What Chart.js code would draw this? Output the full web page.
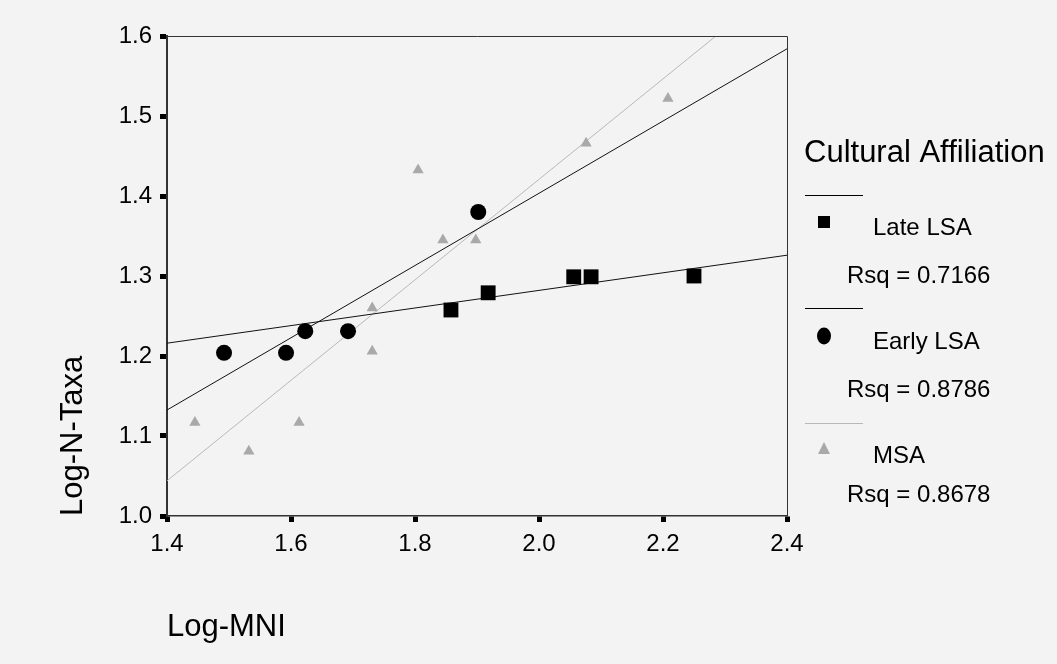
<!DOCTYPE html>
<html>
<head>
<meta charset="utf-8">
<script src="https://cdn.jsdelivr.net/npm/chart.js@4/dist/chart.umd.min.js"></script>
<style>
  html, body { margin: 0; padding: 0; background: #f3f3f3; }
  #wrap { position: relative; width: 1057px; height: 664px; }
</style>
</head>
<body>
<div id="wrap"><canvas id="chart" width="1057" height="664"></canvas></div>
<script>
const FONT = "'Liberation Sans', Arial, sans-serif";

const xTicks = [1.4, 1.6, 1.8, 2.0, 2.2, 2.4];
const yTicks = [1.0, 1.1, 1.2, 1.3, 1.4, 1.5, 1.6];

// points
const lateX = [1.858, 1.918, 2.056, 2.084, 2.250];
const lateY = [1.2575, 1.279, 1.299, 1.299, 1.300];
const earlyX = [1.492, 1.592, 1.623, 1.692, 1.902];
const earlyY = [1.204, 1.204, 1.231, 1.231, 1.380];
const msaX = [1.445, 1.532, 1.613, 1.731, 1.731, 1.805, 1.845, 1.898, 2.076, 2.208];
const msaY = [1.117, 1.081, 1.117, 1.206, 1.260, 1.4325, 1.345, 1.345, 1.466, 1.522];

// fit lines, values read at x = 1.4 and x = 2.4
const fitX = [1.4, 2.4];
const lateFit = [1.216, 1.326];
const earlyFit = [1.1325, 1.584];
const msaFit = [1.044, 1.672];

const legendTitle = 'Cultural Affiliation';
const groupNames = ['Late LSA', 'Early LSA', 'MSA'];
const rsqValues = ['0.7166', '0.8786', '0.8678'];

const toPoints = (xs, ys) => xs.map((x, i) => ({ x: x, y: ys[i] }));

const GREY = '#a9a9a9';
const GREY_LINE = '#b8b8b8';

const legendRows = [
  { line: 195, symbol: 222, label: 235, rsq: 283, color: '#000', style: 'rect' },
  { line: 308, symbol: 336, label: 349, rsq: 397, color: '#000', style: 'circle' },
  { line: 423, symbol: 448, label: 463, rsq: 502, color: GREY_LINE, style: 'triangle' },
];

const frame = {
  id: 'frame',
  afterDraw(chart) {
    const { ctx, chartArea: a } = chart;
    ctx.save();
    ctx.strokeStyle = '#333';
    ctx.lineWidth = 1;
    ctx.beginPath();
    ctx.moveTo(a.left, a.top + 0.5);
    ctx.lineTo(a.right + 0.5, a.top + 0.5);
    ctx.lineTo(a.right + 0.5, a.bottom);
    ctx.stroke();
    ctx.restore();
  }
};

const cultureLegend = {
  id: 'cultureLegend',
  afterDraw(chart) {
    const ctx = chart.ctx;
    ctx.save();
    ctx.fillStyle = '#000';
    ctx.textBaseline = 'alphabetic';
    ctx.textAlign = 'left';
    ctx.font = '31px ' + FONT;
    ctx.fillText(legendTitle, 804, 162);

    ctx.font = '24px ' + FONT;
    legendRows.forEach((row, i) => {
      ctx.strokeStyle = row.color;
      ctx.lineWidth = 1;
      ctx.beginPath();
      ctx.moveTo(805, row.line + 0.5);
      ctx.lineTo(863, row.line + 0.5);
      ctx.stroke();

      const cx = 824, cy = row.symbol;
      ctx.fillStyle = row.style === 'triangle' ? GREY : '#000';
      ctx.beginPath();
      if (row.style === 'rect') {
        ctx.rect(cx - 6, cy - 6, 12, 12);
      } else if (row.style === 'circle') {
        ctx.ellipse(cx, cy, 7, 8.5, 0, 0, Math.PI * 2);
      } else {
        ctx.moveTo(cx, cy - 6);
        ctx.lineTo(cx + 6, cy + 6);
        ctx.lineTo(cx - 6, cy + 6);
        ctx.closePath();
      }
      ctx.fill();

      ctx.fillStyle = '#000';
      ctx.fillText(groupNames[i], 873, row.label);
      ctx.fillText('Rsq = ' + rsqValues[i], 847, row.rsq);
    });
    ctx.restore();
  }
};

new Chart(document.getElementById('chart'), {
  type: 'scatter',
  data: {
    datasets: [
      {
        label: 'Late LSA',
        data: toPoints(lateX, lateY),
        pointStyle: 'rect',
        pointRadius: 10.5,
        backgroundColor: '#000',
        borderWidth: 0,
      },
      {
        label: 'Early LSA',
        data: toPoints(earlyX, earlyY),
        pointStyle: 'circle',
        pointRadius: 8,
        backgroundColor: '#000',
        borderWidth: 0,
      },
      {
        label: 'MSA',
        data: toPoints(msaX, msaY),
        pointStyle: 'triangle',
        pointRadius: 6.5,
        backgroundColor: GREY,
        borderWidth: 0,
      },
      {
        label: 'Late LSA fit',
        data: toPoints(fitX, lateFit),
        showLine: true,
        pointRadius: 0,
        borderColor: '#111',
        borderWidth: 1,
      },
      {
        label: 'Early LSA fit',
        data: toPoints(fitX, earlyFit),
        showLine: true,
        pointRadius: 0,
        borderColor: '#111',
        borderWidth: 1,
      },
      {
        label: 'MSA fit',
        data: toPoints(fitX, msaFit),
        showLine: true,
        pointRadius: 0,
        borderColor: GREY_LINE,
        borderWidth: 1,
      },
    ],
  },
  options: {
    responsive: false,
    animation: false,
    events: [],
    layout: { padding: { left: 50, top: 36, right: 270, bottom: 18 } },
    plugins: {
      legend: { display: false },
      tooltip: { enabled: false },
    },
    scales: {
      x: {
        type: 'linear',
        min: 1.4,
        max: 2.4,
        afterBuildTicks: (s) => { s.ticks = xTicks.map((v) => ({ value: v })); },
        afterFit: (s) => { s.height = 130; },
        ticks: {
          callback: (v) => v.toFixed(1),
          font: { family: FONT, size: 24 },
          color: '#000',
          padding: 8,
          maxRotation: 0,
          autoSkip: false,
        },
        grid: { drawOnChartArea: false, drawTicks: true, tickLength: 6, tickWidth: 5, tickColor: '#000' },
        border: { display: true, color: '#333', width: 1.5 },
        title: {
          display: true,
          text: 'Log-MNI',
          align: 'start',
          color: '#000',
          font: { family: FONT, size: 31 },
          padding: 0,
        },
      },
      y: {
        type: 'linear',
        min: 1.0,
        max: 1.6,
        afterBuildTicks: (s) => { s.ticks = yTicks.map((v) => ({ value: v })); },
        afterFit: (s) => { s.width = 117; },
        ticks: {
          callback: (v) => v.toFixed(1),
          font: { family: FONT, size: 24 },
          color: '#000',
          padding: 8,
          autoSkip: false,
        },
        grid: { drawOnChartArea: false, drawTicks: true, tickLength: 7, tickWidth: 5, tickColor: '#000' },
        border: { display: true, color: '#333', width: 2 },
        title: {
          display: true,
          text: 'Log-N-Taxa',
          align: 'start',
          color: '#000',
          font: { family: FONT, size: 31 },
          padding: { top: 5, bottom: 0 },
        },
      },
    },
  },
  plugins: [frame, cultureLegend],
});
</script>
</body>
</html>
